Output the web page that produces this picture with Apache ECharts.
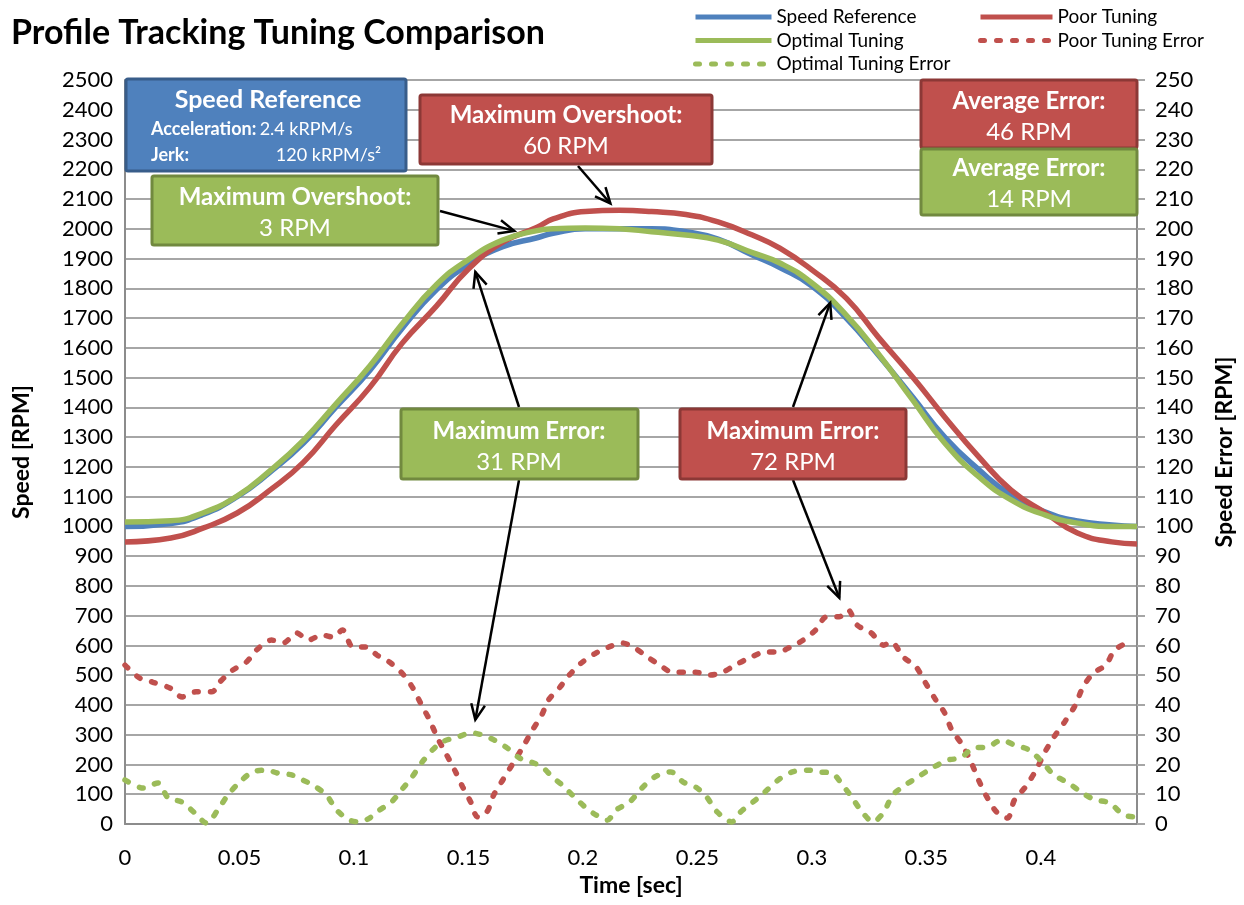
<!DOCTYPE html>
<html>
<head>
<meta charset="utf-8">
<script src="https://cdn.jsdelivr.net/npm/echarts@6/dist/echarts.min.js"></script>
<style>
  html, body { margin: 0; padding: 0; background: #fff; }
  #chart { width: 1244px; height: 905px; }
</style>
</head>
<body>
<div id="chart"></div>
<script>
// speed curves, sampled at the same times (sec)
var speedTime = [0, 0.02, 0.034, 0.049, 0.063, 0.078, 0.092, 0.107, 0.121, 0.136, 0.150, 0.165, 0.180, 0.187, 0.201, 0.216, 0.230, 0.245, 0.259, 0.274, 0.286, 0.300, 0.315, 0.329, 0.344, 0.358, 0.373, 0.387, 0.402, 0.416, 0.431, 0.442];
var speedReference = [1000, 1010, 1040, 1100, 1180, 1280, 1400, 1525, 1665, 1795, 1880, 1940, 1970, 1985, 2000, 2000, 2000, 1990, 1965, 1912, 1870, 1808, 1700, 1576, 1435, 1300, 1190, 1105, 1048, 1018, 1005, 1000];
var poorTuning = [948, 961, 994, 1045, 1120, 1216, 1340, 1468, 1615, 1740, 1865, 1955, 2005, 2033, 2058, 2062, 2058, 2048, 2023, 1979, 1935, 1862, 1767, 1636, 1502, 1368, 1233, 1122, 1045, 978, 948, 941];
var optimalTuning = [1015, 1019, 1045, 1102, 1185, 1290, 1410, 1540, 1680, 1812, 1897, 1962, 1994, 2000, 2003, 2000, 1990, 1979, 1962, 1920, 1885, 1818, 1710, 1580, 1425, 1280, 1166, 1089, 1038, 1011, 1000, 1000];

// error curves (right axis)
var poorErrTime = [0, 0.0065, 0.012, 0.0196, 0.025, 0.031, 0.038, 0.041, 0.047, 0.053, 0.0575, 0.064, 0.069, 0.075, 0.08, 0.086, 0.091, 0.095, 0.0995, 0.105, 0.11, 0.1155, 0.121, 0.1255, 0.1295, 0.133, 0.1365, 0.14, 0.144, 0.1475, 0.151, 0.154, 0.158, 0.161, 0.165, 0.169, 0.1735, 0.178, 0.182, 0.185, 0.19, 0.194, 0.1993, 0.2058, 0.2114, 0.2172, 0.2227, 0.2282, 0.2336, 0.2391, 0.2446, 0.2493, 0.2548, 0.261, 0.2665, 0.2727, 0.2798, 0.2853, 0.2907, 0.2962, 0.3017, 0.3064, 0.3119, 0.3158, 0.3197, 0.3259, 0.3314, 0.3345, 0.34, 0.3455, 0.3494, 0.3541, 0.358, 0.3611, 0.3658, 0.3697, 0.3728, 0.376, 0.3807, 0.3854, 0.3885, 0.3932, 0.3979, 0.4018, 0.4057, 0.4104, 0.4151, 0.4182, 0.4229, 0.4284, 0.4323, 0.4401];
var poorTuningError = [53.4, 49, 47.7, 45.7, 42.7, 44.4, 44.4, 47.4, 51.7, 54.4, 58.5, 61.8, 60.8, 64.2, 61.8, 63.5, 62.8, 65.2, 59.5, 59.5, 56.8, 54.4, 50.7, 46, 40, 35, 28.9, 23.9, 18.1, 12.4, 7.4, 2.4, 4, 9.7, 14.8, 19.8, 25.5, 31.6, 36.6, 41.7, 46, 50, 54.1, 57.5, 59.5, 60.8, 59.1, 56.1, 53.4, 51, 51, 51, 50, 51, 53.4, 55.8, 57.8, 57.8, 59.5, 61.8, 65.2, 69.6, 69.6, 71.9, 66.9, 64.2, 60.1, 61.2, 56.1, 52.8, 47.7, 41.7, 37.3, 31.6, 26.5, 20.5, 14.8, 9.7, 4, 2, 8.1, 12.4, 18.1, 24.2, 29.2, 34.3, 40, 45.7, 50.7, 53.4, 58.5, 61.8];
var optErrTime = [0, 0.0079, 0.0144, 0.0189, 0.0248, 0.0305, 0.0357, 0.0405, 0.0449, 0.0501, 0.0558, 0.0619, 0.0667, 0.0728, 0.0776, 0.082, 0.088, 0.0924, 0.0981, 0.1024, 0.1068, 0.1112, 0.1164, 0.1207, 0.1251, 0.1295, 0.1343, 0.1386, 0.1452, 0.1513, 0.1561, 0.1613, 0.167, 0.1722, 0.1774, 0.1822, 0.1866, 0.1909, 0.1962, 0.2014, 0.2058, 0.2106, 0.2145, 0.2204, 0.2258, 0.2313, 0.2384, 0.2438, 0.2493, 0.254, 0.2587, 0.265, 0.2688, 0.2743, 0.279, 0.2853, 0.2915, 0.2986, 0.3025, 0.3087, 0.3134, 0.3173, 0.322, 0.3267, 0.3314, 0.3353, 0.3408, 0.3463, 0.3525, 0.3595, 0.365, 0.3705, 0.3768, 0.383, 0.3885, 0.3948, 0.401, 0.4057, 0.412, 0.4182, 0.4237, 0.43, 0.4362, 0.4417];
var optimalTuningError = [14.8, 12.1, 13.8, 8.7, 7.4, 3.7, 0.3, 4.7, 9.7, 14.1, 17.5, 18.1, 17.1, 16.5, 14.8, 13.1, 9.7, 4.7, 1.3, 0.7, 2, 4.7, 7.4, 11.4, 15.5, 20.5, 24.9, 27.6, 29.2, 30.6, 29.9, 28.2, 25.5, 22.2, 20.8, 19.2, 15.8, 13.1, 9.1, 5.4, 3, 1.3, 4.7, 7.4, 12.1, 15.8, 17.5, 14.1, 12.4, 9.1, 4, 0.7, 4, 7.4, 10.4, 14.8, 17.5, 18.1, 17.5, 17.1, 13.1, 9.1, 4, 0.7, 4, 9.7, 13.1, 15.8, 18.8, 21.5, 22.2, 25.5, 25.9, 28.2, 26.5, 24.9, 20.5, 16.5, 13.8, 10.4, 8.1, 7.1, 3, 2.4];

var BLUE = '#4F81BD', RED = '#C0504D', GREEN = '#9BBB59';
var FONT = 'Lato';

function pairs(xs, ys) {
  return xs.map(function (x, i) { return [x, ys[i]]; });
}

var chart = echarts.init(document.getElementById('chart'));

var speedLine = function (name, color, values) {
  return {
    name: name, type: 'line', data: pairs(speedTime, values),
    symbol: 'none', smooth: true,
    lineStyle: { color: color, width: 5.5 }, itemStyle: { color: color }
  };
};
var errLine = function (name, color, times, values) {
  return {
    name: name, type: 'line', yAxisIndex: 1, data: pairs(times, values),
    symbol: 'none', smooth: 0.3,
    lineStyle: { color: color, width: 5.5, type: [4, 12], cap: 'round' },
    itemStyle: { color: color }
  };
};

var legendBase = {
  orient: 'vertical', top: 2, itemHeight: 14, itemGap: 3.5,
  itemStyle: { opacity: 0 },
  lineStyle: { width: 5 },
  textStyle: { fontFamily: FONT, fontSize: 19, color: '#000', lineHeight: 20 }
};

var plainNum = function (v) { return String(v); };

chart.setOption({
  animation: false,
  title: {
    text: 'Profile Tracking Tuning Comparison', left: 6, top: 11,
    textStyle: { fontFamily: FONT, fontSize: 34, fontWeight: 'bold', color: '#000' }
  },
  legend: [
    Object.assign({ data: ['Speed Reference', 'Optimal Tuning', 'Optimal Tuning Error'],
      left: 688, itemWidth: 76 }, legendBase),
    Object.assign({ data: ['Poor Tuning', 'Poor Tuning Error'],
      left: 973, itemWidth: 72 }, legendBase)
  ],
  grid: { left: 125, right: 104, top: 80, bottom: 81 },
  xAxis: {
    type: 'value', min: 0, max: 0.442, interval: 0.05,
    name: 'Time [sec]', nameLocation: 'middle', nameGap: 50,
    nameTextStyle: { fontFamily: FONT, fontSize: 23, fontWeight: 'bold', color: '#000' },
    axisLine: { lineStyle: { color: '#8c8c8c', width: 2 } },
    axisTick: { show: false },
    axisLabel: { fontFamily: FONT, fontSize: 22, color: '#000', margin: 23, showMaxLabel: false, formatter: plainNum },
    splitLine: { show: false }
  },
  yAxis: [
    {
      type: 'value', min: 0, max: 2500, interval: 100,
      name: 'Speed [RPM]', nameLocation: 'middle', nameGap: 92, nameRotate: 90,
      nameTextStyle: { fontFamily: FONT, fontSize: 23, fontWeight: 'bold', color: '#000' },
      axisLine: { show: true, lineStyle: { color: '#8c8c8c', width: 2 } },
      axisTick: { show: false },
      axisLabel: { fontFamily: FONT, fontSize: 22, color: '#000', margin: 12, formatter: plainNum },
      splitLine: { lineStyle: { color: '#a6a6a6', width: 2 } }
    },
    {
      type: 'value', min: 0, max: 250, interval: 10, position: 'right',
      name: 'Speed Error [RPM]', nameLocation: 'middle', nameGap: 76, nameRotate: 90,
      nameTextStyle: { fontFamily: FONT, fontSize: 23, fontWeight: 'bold', color: '#000' },
      axisLine: { show: true, lineStyle: { color: '#8c8c8c', width: 2 } },
      axisTick: { show: true, length: 8, lineStyle: { color: '#a6a6a6', width: 2 } },
      axisLabel: { fontFamily: FONT, fontSize: 22, color: '#000', margin: 18, formatter: plainNum },
      splitLine: { show: false }
    }
  ],
  series: [
    speedLine('Speed Reference', BLUE, speedReference),
    speedLine('Poor Tuning', RED, poorTuning),
    speedLine('Optimal Tuning', GREEN, optimalTuning),
    errLine('Poor Tuning Error', RED, poorErrTime, poorTuningError),
    errLine('Optimal Tuning Error', GREEN, optErrTime, optimalTuningError)
  ]
});

// annotation boxes and arrows
function rect(x, y, w, h, fill, stroke) {
  return { type: 'rect', z: 100, shape: { x: x, y: y, width: w, height: h, r: 2 },
    style: { fill: fill, stroke: stroke, lineWidth: 3 } };
}
function label(x, y, text, size, bold, align) {
  return { type: 'text', z: 101, x: x, y: y,
    style: { text: text, fill: '#fff', font: (bold ? 'bold ' : '') + size + 'px ' + FONT,
      textAlign: align || 'center', textVerticalAlign: 'middle' } };
}
function arrow(from, to) {
  var ang = Math.atan2(to[1] - from[1], to[0] - from[0]);
  var L = 17, a = 0.42;
  var p1 = [to[0] - L * Math.cos(ang - a), to[1] - L * Math.sin(ang - a)];
  var p2 = [to[0] - L * Math.cos(ang + a), to[1] - L * Math.sin(ang + a)];
  return [
    { type: 'line', z: 90, shape: { x1: from[0], y1: from[1], x2: to[0], y2: to[1] },
      style: { stroke: '#000', lineWidth: 2.5 } },
    { type: 'polyline', z: 90, shape: { points: [p1, to, p2] },
      style: { stroke: '#000', lineWidth: 2.5, fill: null } }
  ];
}
function px(t, v, axis) {
  return chart.convertToPixel({ xAxisIndex: 0, yAxisIndex: axis || 0 }, [t, v]);
}

var els = [];
els = els.concat(arrow([578, 166], px(0.212, 2085)));
els = els.concat(arrow([440, 211], px(0.170, 1993)));
els = els.concat(arrow([519, 407], px(0.153, 1855)));
els = els.concat(arrow([519, 480], px(0.153, 35, 1)));
els = els.concat(arrow([793, 407], px(0.308, 1751)));
els = els.concat(arrow([793, 480], px(0.312, 76, 1)));

var DB = '#385D8A', DR = '#8C3836', DG = '#71893F';
els.push(rect(126, 79, 280, 92, BLUE, DB));
els.push(label(268, 100, 'Speed Reference', 25, true));
els.push({ type: 'text', z: 101, x: 151, y: 129,
  style: { text: '{b|Acceleration:} {r|2.4 kRPM/s}', textVerticalAlign: 'middle',
    rich: { b: { fill: '#fff', font: 'bold 18px ' + FONT }, r: { fill: '#fff', font: '18px ' + FONT } } } });
els.push(label(151, 155, 'Jerk:', 18, true, 'left'));
els.push(label(381, 155, '120 kRPM/s\u00B2', 18, false, 'right'));

els.push(rect(420, 95, 292, 69, RED, DR));
els.push(label(566, 115, 'Maximum Overshoot:', 24, true));
els.push(label(566, 146, '60 RPM', 24, false));

els.push(rect(152, 176, 286, 69, GREEN, DG));
els.push(label(295, 197, 'Maximum Overshoot:', 24, true));
els.push(label(295, 228, '3 RPM', 24, false));

els.push(rect(921, 80, 216, 68, RED, DR));
els.push(label(1029, 101, 'Average Error:', 24, true));
els.push(label(1029, 132, '46 RPM', 24, false));

els.push(rect(921, 149, 216, 66, GREEN, DG));
els.push(label(1029, 168, 'Average Error:', 24, true));
els.push(label(1029, 199, '14 RPM', 24, false));

els.push(rect(401, 409, 237, 70, GREEN, DG));
els.push(label(519, 431, 'Maximum Error:', 24, true));
els.push(label(519, 462, '31 RPM', 24, false));

els.push(rect(680, 409, 226, 70, RED, DR));
els.push(label(793, 431, 'Maximum Error:', 24, true));
els.push(label(793, 462, '72 RPM', 24, false));

chart.setOption({ graphic: { elements: els } });
</script>
</body>
</html>
